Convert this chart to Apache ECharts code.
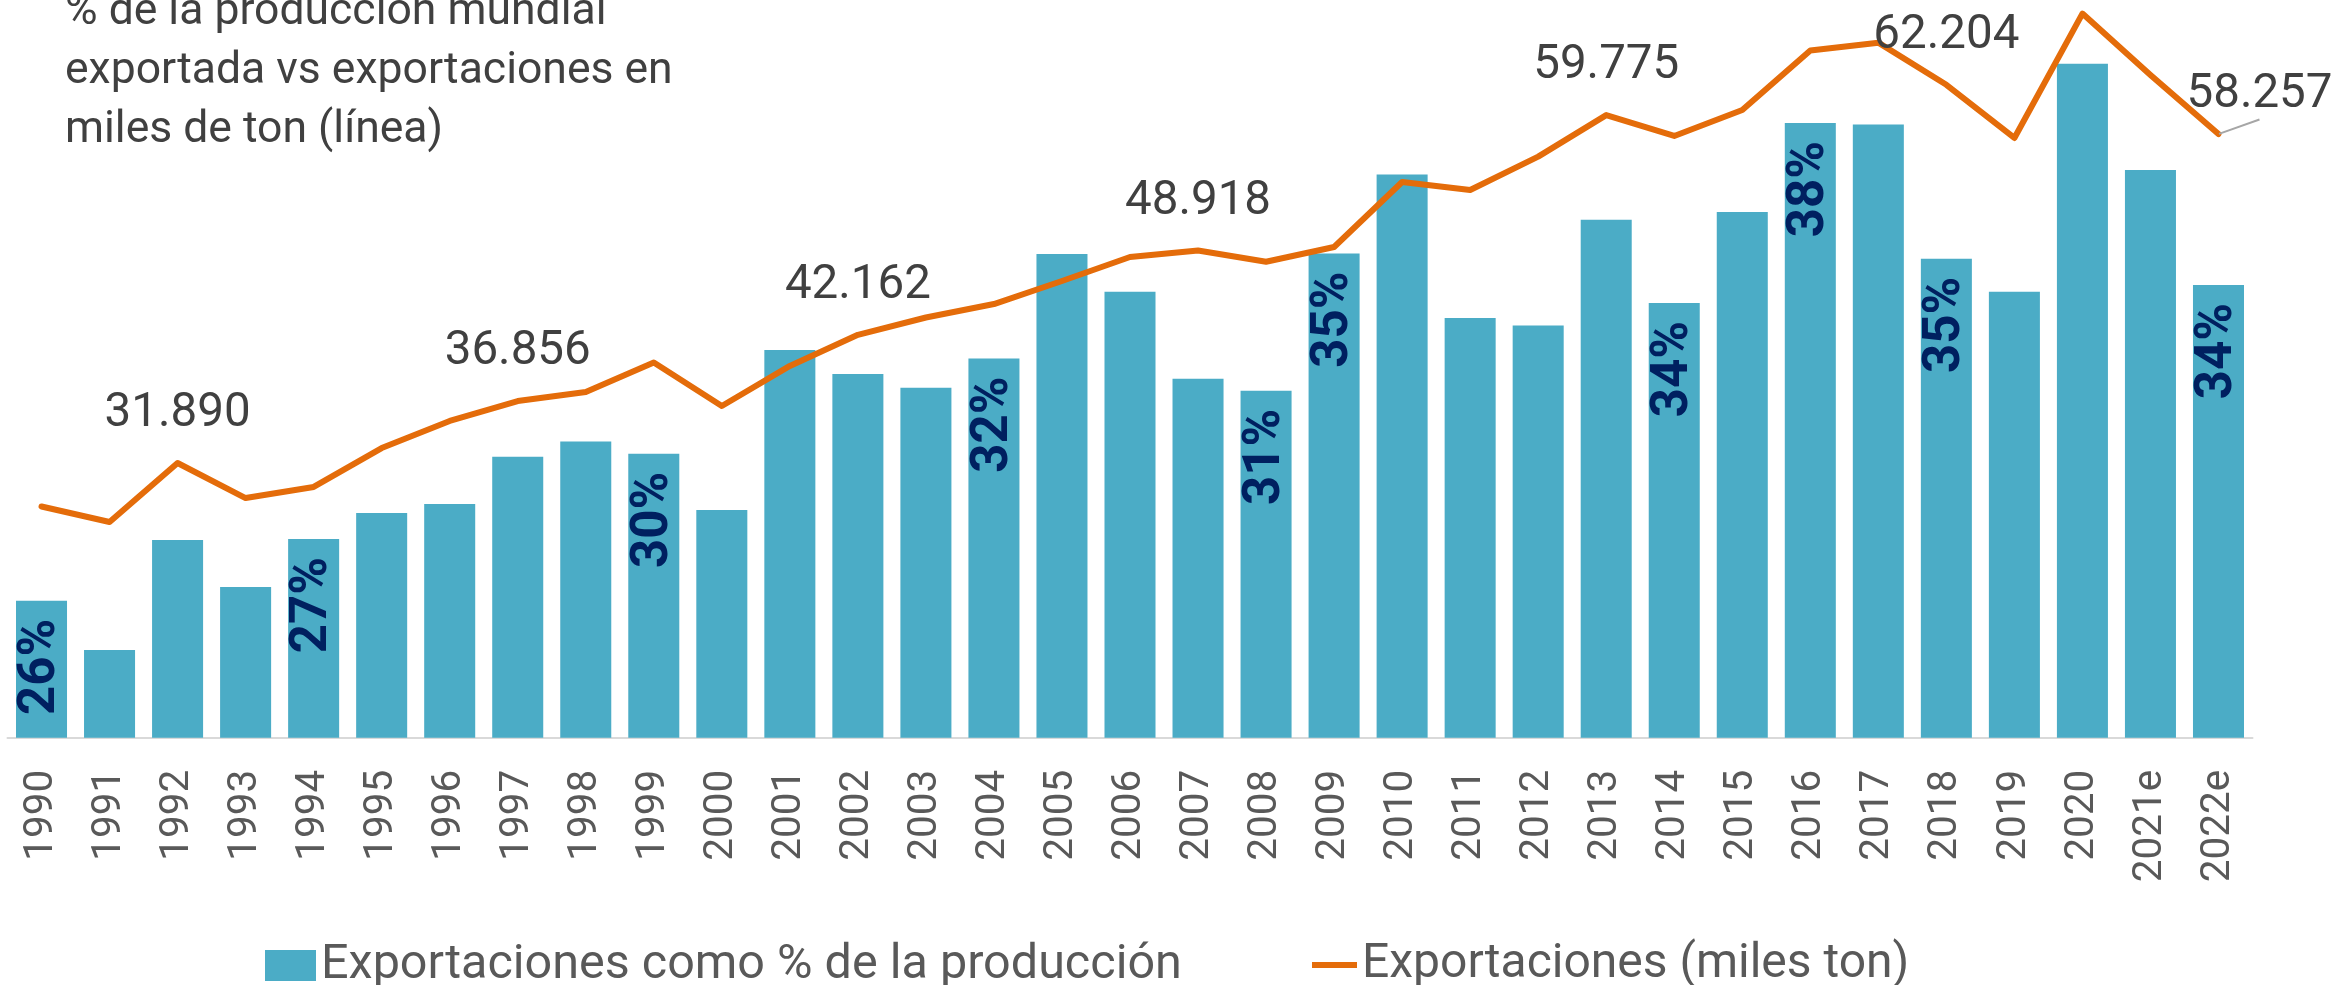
<!DOCTYPE html>
<html>
<head>
<meta charset="utf-8">
<script src="https://cdn.jsdelivr.net/npm/echarts@6/dist/echarts.min.js"></script>
<style>
html,body{margin:0;padding:0;background:#fff;}
#chart{width:2338px;height:985px;}
</style>
</head>
<body>
<div id="chart"></div>
<script>
const categories = ['1990','1991','1992','1993','1994','1995','1996','1997','1998','1999','2000','2001','2002','2003','2004','2005','2006','2007','2008','2009','2010','2011','2012','2013','2014','2015','2016','2017','2018','2019','2020','2021e','2022e'];
// Exportaciones como % de la producción
const exportShare = [25.65,24.34,27.27,26.02,27.30,27.99,28.23,29.49,29.90,29.57,28.07,32.34,31.70,31.33,32.11,34.90,33.89,31.57,31.25,34.91,37.02,33.19,32.99,35.81,33.59,36.02,38.39,38.35,34.77,33.89,39.97,37.14,34.07];
// Exportaciones (miles ton)
const exportTons = [28400,27160,31890,29080,29970,33090,35260,36856,37580,39940,36460,39670,42162,43550,44630,46480,48400,48918,48020,49200,54410,53770,56450,59775,58100,60180,64960,65580,62204,57940,67910,62990,58257];
const shareLabelYears = ['1990','1994','1999','2004','2008','2009','2014','2016','2018','2022e'];
const tonsLabelYears = ['1992','1997','2002','2007','2013','2018','2022e'];
const seriesNames = ['Exportaciones como % de la producción','Exportaciones (miles ton)'];
const titleText = '% de la producción mundial\nexportada vs exportaciones en\nmiles de ton (línea)';

const shareAxis = {min: 22, max: 41.672};
const tonsAxis = {min: 9872, max: 69000};

function fmtThousands(v){
  return Math.round(v).toString().replace(/\B(?=(\d{3})+(?!\d))/g, '.');
}

const FONT = 'Roboto';
const chart = echarts.init(document.getElementById('chart'), null, {renderer:'canvas'});

const barData = exportShare.map((v,i)=>{
  const show = shareLabelYears.indexOf(categories[i]) >= 0;
  return {value:v, label:{show:show}};
});
const lastIdx = categories.length - 1;
const lineData = exportTons.map((v,i)=>{
  const show = tonsLabelYears.indexOf(categories[i]) >= 0;
  const item = {value:v, label:{show:show}};
  if (i === lastIdx) item.labelLine = {show:true, lineStyle:{color:'#a6a6a6', width:2}};
  return item;
});

chart.setOption({
  animation:false,
  backgroundColor:'#ffffff',
  title:{
    text:titleText,
    left:60, top:-22,
    textStyle:{fontFamily:FONT, fontSize:44.5, fontWeight:'normal', color:'#404040', lineHeight:59}
  },
  legend:[
    {data:[seriesNames[0]], left:265, top:941, padding:0, icon:'rect', itemWidth:51, itemHeight:31,
     textStyle:{fontFamily:FONT, fontSize:48.5, color:'#595959'}},
    {data:[seriesNames[1]], left:1312, top:941, padding:0, icon:'rect', itemWidth:45, itemHeight:6,
     textStyle:{fontFamily:FONT, fontSize:48, color:'#595959'}}
  ],
  grid:{left:7.5, right:85.5, top:0, bottom:247.3, containLabel:false, outerBoundsMode:'none'},
  xAxis:{
    type:'category', data:categories,
    axisLine:{show:true, lineStyle:{color:'#d9d9d9', width:2}},
    axisTick:{show:false},
    axisLabel:{interval:0, rotate:90, margin:32, fontFamily:FONT, fontSize:40.5, color:'#595959'},
    splitLine:{show:false}
  },
  yAxis:[
    {type:'value', min:shareAxis.min, max:shareAxis.max, show:false, splitLine:{show:false}},
    {type:'value', min:tonsAxis.min, max:tonsAxis.max, show:false, splitLine:{show:false}}
  ],
  series:[
    {
      name:seriesNames[0], type:'bar', yAxisIndex:0, data:barData,
      barWidth:'75%',
      itemStyle:{color:'#4BACC6'},
      label:{
        position:'insideTop', rotate:90, align:'right', verticalAlign:'middle', distance:18,
        fontFamily:FONT, fontWeight:'bold', fontSize:51, color:'#002060',
        formatter:(p)=>Math.round(p.value)+'%'
      }
    },
    {
      name:seriesNames[1], type:'line', yAxisIndex:1, data:lineData,
      symbol:'circle', symbolSize:1, showSymbol:true,
      lineStyle:{color:'#E46C0A', width:6, cap:'round', join:'round'},
      itemStyle:{color:'#E46C0A'},
      label:{
        position:'top', distance:24,
        fontFamily:FONT, fontSize:47.5, color:'#404040',
        formatter:(p)=>fmtThousands(p.value)
      },
      labelLayout:function(p){
        if (p.dataIndex === lastIdx) return {dx:41, dy:10};
        return {};
      }
    }
  ]
});
</script>
</body>
</html>
